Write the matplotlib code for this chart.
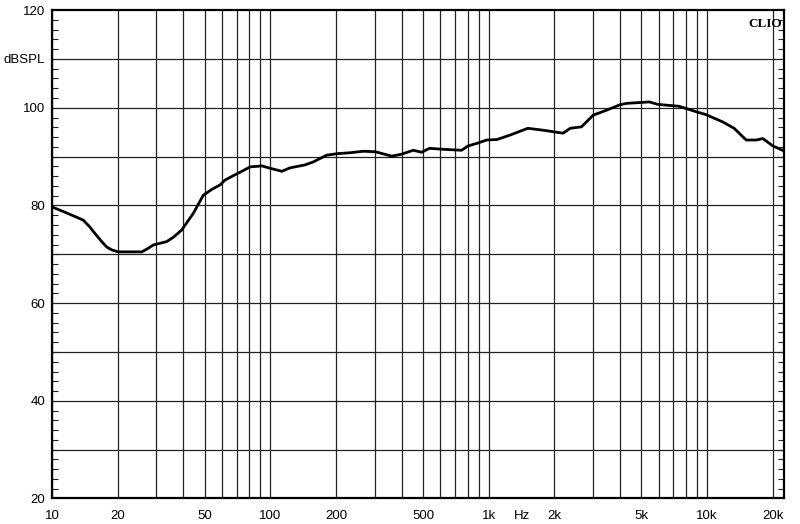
import matplotlib.pyplot as plt
from matplotlib.ticker import FixedLocator, NullFormatter, NullLocator

# frequency response (Hz, dB SPL)
freq = [10, 11.2, 12.5, 13.9, 14.9, 15.7, 16.9, 17.8, 18.8, 20.1, 25.8, 27.5,
        29.1, 33.5, 36, 39.3, 44.4, 49.3, 54, 58.8, 62, 67, 72.6, 80.8, 91.5,
        100, 113, 123, 144, 157, 181, 202, 232, 267, 302, 360, 399, 451, 493,
        536, 617, 751, 805, 881, 979, 1090, 1250, 1510, 1710, 1780, 2190,
        2360, 2660, 3010, 3460, 3980, 4270, 5440, 5940, 7460, 8900, 9880,
        11800, 13300, 15100, 16800, 18000, 20000, 22400]
spl = [79.7, 78.8, 77.9, 77.0, 75.6, 74.3, 72.6, 71.5, 70.9, 70.5, 70.5, 71.2,
       71.9, 72.6, 73.5, 75.0, 78.4, 82.1, 83.3, 84.2, 85.2, 86.0, 86.8, 87.9,
       88.1, 87.6, 87.0, 87.7, 88.3, 88.9, 90.3, 90.6, 90.8, 91.1, 91.0, 90.1,
       90.5, 91.3, 90.9, 91.7, 91.5, 91.3, 92.2, 92.7, 93.4, 93.5, 94.4, 95.8,
       95.5, 95.4, 94.8, 95.8, 96.1, 98.5, 99.5, 100.6, 100.9, 101.2, 100.7,
       100.3, 99.2, 98.6, 97.1, 95.8, 93.4, 93.4, 93.7, 92.2, 91.2]

x_major = [10, 20, 50, 100, 200, 500, 1000, 1420, 2000, 5000, 10000, 20000]
x_labels = ["10", "20", "50", "100", "200", "500", "1k", "Hz", "2k", "5k",
            "10k", "20k"]
y_ticks = [20, 40, 60, 80, 100, 110, 120]
y_labels = ["20", "40", "60", "80", "100", "dBSPL", "120"]

plt.rcParams["font.family"] = ["Liberation Sans", "DejaVu Sans"]
fig = plt.figure(figsize=(8, 5.24), dpi=100)
ax = fig.add_axes([0.065, 0.0487, 0.915, 0.932])

ax.set_xscale("log")
ax.set_xlim(10, 22500)
ax.set_ylim(20, 120)

# vertical grid: every 1-2-3...9 of each decade
grid_f = [m * 10 ** d for d in range(1, 5) for m in range(1, 10) if m * 10 ** d <= 20000]
for f in grid_f:
    ax.axvline(f, color="#222222", lw=0.9, zorder=1)
for v in range(30, 120, 10):
    ax.axhline(v, color="#222222", lw=0.9, zorder=1)

ax.plot(freq, spl, color="black", lw=2.0, zorder=3)

ax.xaxis.set_major_locator(FixedLocator(x_major))
ax.xaxis.set_minor_locator(NullLocator())
ax.set_xticklabels(x_labels, fontsize=9.5)
ax.tick_params(axis="x", length=0, pad=8)

ax.yaxis.set_major_locator(FixedLocator(y_ticks))
ax.set_yticklabels(y_labels, fontsize=9.5)
ax.yaxis.set_minor_locator(FixedLocator(range(20, 121, 2)))
ax.yaxis.set_minor_formatter(NullFormatter())
ax.tick_params(axis="y", which="major", length=0, pad=5)
ax.tick_params(axis="y", which="minor", direction="in", length=4, width=0.8,
               left=True, right=True, color="#222222")

for s in ax.spines.values():
    s.set_linewidth(1.6)
    s.set_color("black")

ax.text(0.997, 0.984, "CLIO", transform=ax.transAxes, ha="right", va="top",
        fontsize=9.5, fontweight="bold", family=["Liberation Serif", "DejaVu Serif"])

fig.savefig("out.png", dpi=100)
